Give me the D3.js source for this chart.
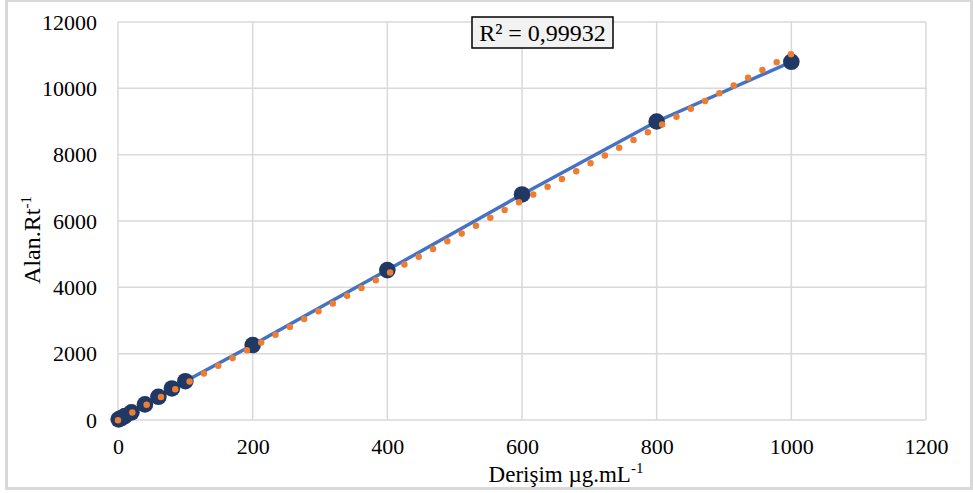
<!DOCTYPE html>
<html>
<head>
<meta charset="utf-8">
<script src="https://cdn.jsdelivr.net/npm/d3@7"></script>
<style>
  html, body { margin: 0; padding: 0; background: #fff; }
  svg { display: block; }
</style>
</head>
<body>
<svg id="chart" width="973" height="493"></svg>
<script>
// ---- data ----
const concentrations = [1, 5, 10, 20, 40, 60, 80, 100, 200, 400, 600, 800, 1000];
const areas = [20, 60, 120, 230, 470, 700, 950, 1170, 2260, 4520, 6800, 9000, 10800];
const trendX = [0, 1000];
const trendY = [-10, 11030];
const xTicks = [0, 200, 400, 600, 800, 1000, 1200];
const yTicks = [0, 2000, 4000, 6000, 8000, 10000, 12000];
const rSquaredLabel = "R² = 0,99932";

const svg = d3.select("#chart");
const W = 973, H = 493;
const plot = { left: 118, right: 926, top: 22, bottom: 420 };

// outer border
svg.append("rect").attr("x", 6.5).attr("y", 0.5).attr("width", W - 8).attr("height", 488)
  .attr("fill", "#fff").attr("stroke", "#d9d9d9").attr("stroke-width", 3);

const x = d3.scaleLinear().domain([0, 1200]).range([plot.left, plot.right]);
const y = d3.scaleLinear().domain([0, 12000]).range([plot.bottom, plot.top]);

// gridlines
const grid = svg.append("g");
grid.selectAll(".vg").data(xTicks).join("line")
  .attr("x1", d => x(d)).attr("x2", d => x(d))
  .attr("y1", plot.top).attr("y2", plot.bottom)
  .attr("stroke", "#d9d9d9").attr("stroke-width", 1.5);
grid.selectAll(".hg").data(yTicks).join("line")
  .attr("x1", plot.left).attr("x2", plot.right)
  .attr("y1", d => y(d)).attr("y2", d => y(d))
  .attr("stroke", "#d9d9d9").attr("stroke-width", 1.5);

// axes (labels only)
const fontFam = "'Liberation Serif', 'Times New Roman', serif";
const xAxis = svg.append("g").attr("transform", `translate(0,${plot.bottom})`)
  .call(d3.axisBottom(x).tickValues(xTicks).tickSize(0).tickPadding(18).tickFormat(d3.format("d")));
const yAxis = svg.append("g").attr("transform", `translate(${plot.left},0)`)
  .call(d3.axisLeft(y).tickValues(yTicks).tickSize(0).tickPadding(21).tickFormat(d3.format("d")));
[xAxis, yAxis].forEach(a => {
  a.select(".domain").remove();
  a.selectAll("text").attr("font-family", fontFam).attr("font-size", 22).attr("fill", "#000");
});

// series line
const line = d3.line().x((d, i) => x(concentrations[i])).y(d => y(d));
svg.append("path").datum(areas).attr("d", line)
  .attr("fill", "none").attr("stroke", "#4472C4").attr("stroke-width", 3.5);

// markers
svg.selectAll(".pt").data(areas).join("circle")
  .attr("cx", (d, i) => x(concentrations[i])).attr("cy", d => y(d))
  .attr("r", 8.3).attr("fill", "#203864");

// trendline (dotted)
const tline = d3.line().x((d, i) => x(trendX[i])).y(d => y(d));
svg.append("path").datum(trendY).attr("d", tline)
  .attr("fill", "none").attr("stroke", "#ED7D31").attr("stroke-width", 6.5)
  .attr("stroke-linecap", "round").attr("stroke-dasharray", "0 16.3");

// R² box
const box = svg.append("g");
box.append("rect").attr("x", 472).attr("y", 17).attr("width", 141).attr("height", 31)
  .attr("fill", "#f2f2f2").attr("stroke", "#000").attr("stroke-width", 1.5);
box.append("text").attr("x", 542.5).attr("y", 41).attr("text-anchor", "middle")
  .attr("font-family", fontFam).attr("font-size", 24).attr("fill", "#000").text(rSquaredLabel);

// axis titles
const xt = svg.append("text").attr("x", 566).attr("y", 482).attr("text-anchor", "middle")
  .attr("font-family", fontFam).attr("font-size", 23).attr("fill", "#000");
xt.append("tspan").text("Derişim µg.mL");
xt.append("tspan").attr("dy", -9).attr("font-size", 15).text("-1");

const yt = svg.append("text").attr("transform", "translate(40,240) rotate(-90)")
  .attr("text-anchor", "middle")
  .attr("font-family", fontFam).attr("font-size", 24).attr("fill", "#000");
yt.append("tspan").text("Alan.Rt");
yt.append("tspan").attr("dy", -9).attr("font-size", 15).text("-1");
</script>
</body>
</html>
